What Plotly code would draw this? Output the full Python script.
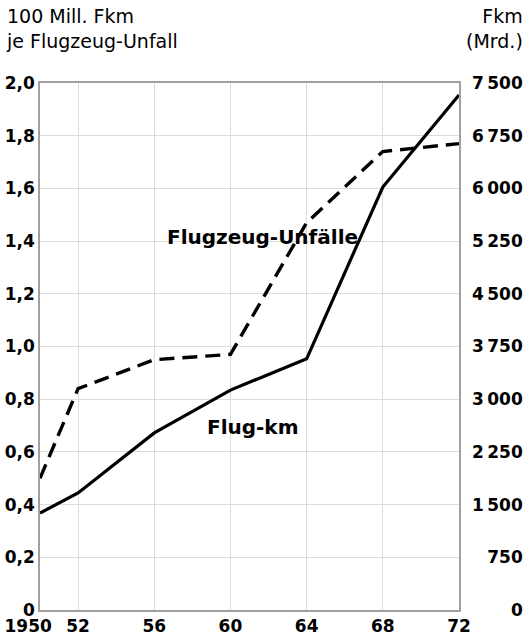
"""Flugkilometer und Flugzeug-Unfaelle 1950-1972."""
import plotly.graph_objects as go

years = [1950, 1952, 1956, 1960, 1964, 1968, 1972]
# 100 Mill. Fkm je Flugzeug-Unfall (left axis)
unfaelle = [0.50, 0.84, 0.95, 0.97, 1.47, 1.74, 1.77]
# Fkm in Mrd. (right axis)
flug_km = [1380, 1665, 2520, 3130, 3575, 6020, 7330]

x_ticks = [1950, 1952, 1956, 1960, 1964, 1968, 1972]
x_labels = ["1950\u2007\u2007", "52", "56", "60", "64", "68", "72"]
left_ticks = [0, 0.2, 0.4, 0.6, 0.8, 1.0, 1.2, 1.4, 1.6, 1.8, 2.0]
left_labels = ["0", "0,2", "0,4", "0,6", "0,8", "1,0", "1,2", "1,4", "1,6",
               "1,8", "2,0"]
right_ticks = [0, 750, 1500, 2250, 3000, 3750, 4500, 5250, 6000, 6750, 7500]
right_labels = ["\u2007\u2007\u2007\u20090", "\u2007\u2009750",
                "1\u2009500", "2\u2009250", "3\u2009000", "3\u2009750",
                "4\u2009500", "5\u2009250", "6\u2009000", "6\u2009750",
                "7\u2009500"]

FONT = "DejaVu Sans"
GRID = "#dcdcdc"
FRAME = "#a0a0a0"

fig = go.Figure()
fig.add_trace(go.Scatter(
    x=years, y=unfaelle, mode="lines", yaxis="y",
    line=dict(color="black", width=3.4, dash="15px,8px"),
))
fig.add_trace(go.Scatter(
    x=years, y=flug_km, mode="lines", yaxis="y2",
    line=dict(color="black", width=3.2),
))

fig.add_annotation(x=1961.7, y=1.416, xref="x", yref="y",
                   text="Flugzeug-Unfälle", showarrow=False,
                   font=dict(family=FONT, size=20, color="black",
                             weight="bold"))
fig.add_annotation(x=1961.2, y=0.695, xref="x", yref="y",
                   text="Flug-km", showarrow=False,
                   font=dict(family=FONT, size=20, color="black",
                             weight="bold"))

# axis titles at the top corners
fig.add_annotation(x=0, y=1, xref="paper", yref="paper", xshift=-36,
                   yshift=80, xanchor="left", yanchor="top", align="left",
                   text="100 Mill. Fkm<br>je Flugzeug-Unfall",
                   showarrow=False,
                   font=dict(family=FONT, size=19, color="black"))
fig.add_annotation(x=1, y=1, xref="paper", yref="paper", xshift=66,
                   yshift=80, xanchor="right", yanchor="top", align="right",
                   text="Fkm<br>(Mrd.)", showarrow=False,
                   font=dict(family=FONT, size=19, color="black"))

tick_font = dict(family=FONT, size=17, color="black", weight="bold")
fig.update_layout(
    width=527, height=640,
    margin=dict(l=40, r=68, t=83, b=30),
    paper_bgcolor="white", plot_bgcolor="white",
    showlegend=False,
    xaxis=dict(
        range=[1950, 1972], tickvals=x_ticks, ticktext=x_labels,
        showgrid=True, gridcolor=GRID, gridwidth=1,
        showline=True, linecolor=FRAME, linewidth=1.5, mirror=True,
        ticks="", tickfont=tick_font, zeroline=False, automargin=False,
        tickangle=0,
    ),
    yaxis=dict(
        range=[0, 2.0], tickvals=left_ticks, ticktext=left_labels,
        showgrid=True, gridcolor=GRID, gridwidth=1,
        showline=True, linecolor=FRAME, linewidth=1.5, mirror=True,
        ticks="", tickfont=tick_font, zeroline=False, automargin=False,
    ),
    yaxis2=dict(
        range=[0, 7500], tickvals=right_ticks, ticktext=right_labels,
        overlaying="y", side="right", showgrid=False, zeroline=False,
        ticks="", tickfont=tick_font, ticklabelstandoff=12,
        automargin=False,
    ),
)

# the page body has a default 8px margin; drop it so the figure fills the window
fig.write_html("out.html", config={"displayModeBar": False},
               post_script="document.body.style.margin = '0';")
